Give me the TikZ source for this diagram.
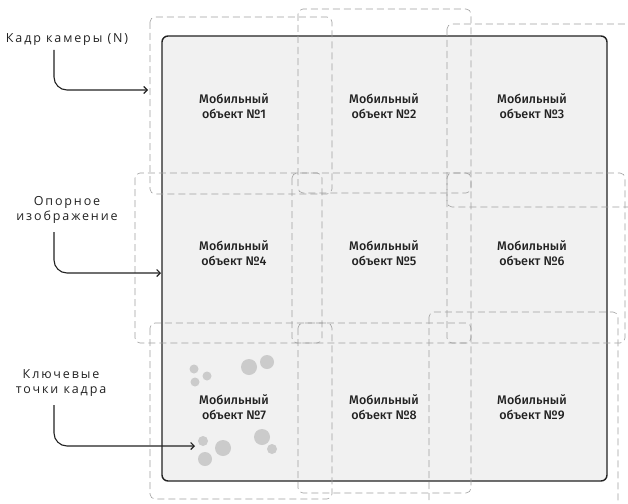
\documentclass[tikz,border=0pt]{standalone}
\usepackage{fontspec}
\setmainfont{Fira Sans}
\newfontfamily\cellfont{Fira Sans Medium}
\newfontfamily\notefont{Open Sans}[LetterSpace=15]
\usetikzlibrary{arrows.meta}

\definecolor{framegray}{HTML}{A0A0A0}
\definecolor{boardgray}{HTML}{F1F1F1}
\definecolor{kpgray}{HTML}{CBCBCB}
\definecolor{ink}{HTML}{222222}

\begin{document}
\begin{tikzpicture}[x=1pt,y=-1pt,
  frame/.style={draw=framegray, line width=0.6pt, dash pattern=on 7pt off 4pt, rounded corners=5pt},
  board/.style={draw=ink, line width=1.4pt, fill=boardgray, rounded corners=6pt},
  cell/.style={font=\cellfont\fontsize{12.5}{14.5}\selectfont, align=center, text=ink},
  note/.style={font=\notefont\fontsize{12.5}{15}\selectfont, align=center, text=ink},
  pointer/.style={draw=ink, line width=1.1pt, rounded corners=13pt, -{Straight Barb[length=3.5pt,width=7pt]}},
  kp/.style={fill=kpgray, draw=none}]

\useasboundingbox (0,0) rectangle (628,503);
\clip (0,0) rectangle (628,503);

% main image area
\draw[board] (162,36) rectangle (607,481);

% camera frames around each mobile object
\draw[frame] (150,17)  rectangle (332,194);
\draw[frame] (298,9)   rectangle (471,193);
\draw[frame] (447,24)  rectangle (645,207);
\draw[frame] (135,173) rectangle (322,343);
\draw[frame] (292,173) rectangle (471,343);
\draw[frame] (447,173) rectangle (625,343);
\draw[frame] (150,323) rectangle (332,499);
\draw[frame] (298,323) rectangle (471,493);
\draw[frame] (429,312) rectangle (618,520);

% key points
\fill[kp] (194,369) circle (4.5);
\fill[kp] (207,376) circle (4.5);
\fill[kp] (195,382) circle (4.5);
\fill[kp] (249,367) circle (8);
\fill[kp] (267,362) circle (7);
\fill[kp] (203,441) circle (5);
\fill[kp] (223,448) circle (8);
\fill[kp] (205,459) circle (7);
\fill[kp] (262,437) circle (8);
\fill[kp] (272,449) circle (5);

% mobile objects
\node[cell] (m1) at (234,106) {Мобильный\\объект №1};
\node[cell] (m2) at (384,106) {Мобильный\\объект №2};
\node[cell] (m3) at (532,106) {Мобильный\\объект №3};
\node[cell] (m4) at (234,253) {Мобильный\\объект №4};
\node[cell] (m5) at (384,253) {Мобильный\\объект №5};
\node[cell] (m6) at (532,253) {Мобильный\\объект №6};
\node[cell] (m7) at (234,407) {Мобильный\\объект №7};
\node[cell] (m8) at (384,407) {Мобильный\\объект №8};
\node[cell] (m9) at (532,407) {Мобильный\\объект №9};

% side notes
\node[note] (n1) at (67,40) {Кадр камеры (N)};
\node[note] (n2) at (67,210) {Опорное\\изображение};
\node[note] (n3) at (61,383) {Ключевые\\точки кадра};

% pointers
\coordinate (p1) at (54,50);
\coordinate (t1) at (148,90);
\coordinate (p2) at (54,232);
\coordinate (t2) at (161,273);
\coordinate (p3) at (54,405);
\coordinate (t3) at (195,446);
\draw[pointer] (p1) |- (t1);
\draw[pointer] (p2) |- (t2);
\draw[pointer] (p3) |- (t3);

\end{tikzpicture}
\end{document}
